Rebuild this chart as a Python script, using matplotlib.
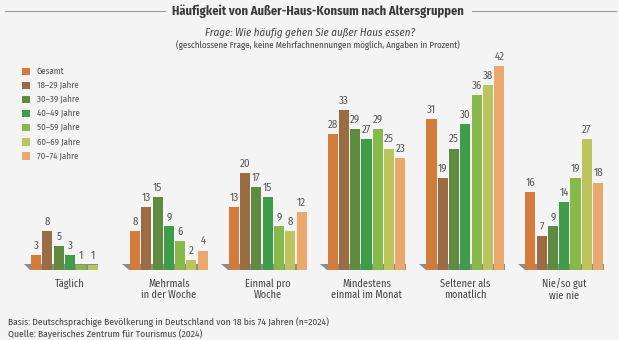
import numpy as np
import matplotlib
matplotlib.use("Agg")
import matplotlib.pyplot as plt
from matplotlib.patches import Patch, Polygon

plt.rcParams['font.family'] = ['Fira Sans Condensed', 'DejaVu Sans']

# Daten
categories = ["Täglich", "Mehrmals\nin der Woche", "Einmal pro\nWoche",
              "Mindestens\neinmal im Monat", "Seltener als\nmonatlich", "Nie/so gut\nwie nie"]
groups = ["Gesamt", "18\u201329 Jahre", "30\u201339 Jahre", "40\u201349 Jahre",
          "50\u201359 Jahre", "60\u201369 Jahre", "70\u201374 Jahre"]
gesamt = [3, 8, 13, 28, 31, 16]
j18_29 = [8, 13, 20, 33, 19, 7]
j30_39 = [5, 15, 17, 29, 25, 9]
j40_49 = [3, 9, 15, 27, 30, 14]
j50_59 = [1, 6, 9, 29, 36, 19]
j60_69 = [1, 2, 8, 25, 38, 27]
j70_74 = [None, 4, 12, 23, 42, 18]   # Täglich: kein Wert
series = [gesamt, j18_29, j30_39, j40_49, j50_59, j60_69, j70_74]
colors = ["#d27b3b", "#9a6c43", "#5f8b40", "#3f9c4b", "#87b94b", "#bcc55d", "#eba86d"]

bg = "#f4f4f4"
fig = plt.figure(figsize=(6.19, 3.40), dpi=100, facecolor=bg)
ax = fig.add_axes([0.0333, 0.2059, 0.958, 0.643])
ax.set_facecolor(bg)
ax.set_xlim(-0.5, 5.5)
ax.set_ylim(0, 45)
ax.axis("off")

pitch = 0.1143
width = 0.102
x = np.arange(len(categories))

# "Boden" unter jeder Gruppe (endet am letzten vorhandenen Balken)
for i, xi in enumerate(x):
    n = max(k for k, s in enumerate(series) if s[i] is not None)
    left = xi - 3.5 * pitch
    right = xi + (n - 3) * pitch + pitch / 2
    ax.add_patch(Polygon([(left - 0.07, 1.25), (right, 1.25), (right, 0), (left, 0)],
                         closed=True, color="#8c8c8c", lw=0, zorder=1))

for k, (vals, c) in enumerate(zip(series, colors)):
    off = (k - 3) * pitch
    for xi, v in zip(x, vals):
        if v is None:
            continue
        ax.bar(xi + off, v, width=width, color=c, zorder=2, linewidth=0)
        ax.text(xi + off, v + 0.8, str(v), ha="center", va="bottom",
                fontsize=7.8, color="#555555")

for xi, cat in zip(x, categories):
    ax.text(xi, -1.7, cat, ha="center", va="top", fontsize=7.4,
            color="#444444", linespacing=1.1)

# Titel
fig.text(0.514, 0.967, "Häufigkeit von Außer-Haus-Konsum nach Altersgruppen",
         ha="center", va="center", fontsize=9, fontweight="bold", color="#3a3a3a")
fig.add_artist(plt.Line2D([0.008, 0.267], [0.967, 0.967], color="#9a9a9a", lw=0.8))
fig.add_artist(plt.Line2D([0.762, 0.995], [0.967, 0.967], color="#9a9a9a", lw=0.8))
fig.text(0.501, 0.905, "Frage: Wie häufig gehen Sie außer Haus essen?",
         ha="center", va="center", fontsize=7.9, style="italic", color="#444444")
fig.text(0.514, 0.866, "(geschlossene Frage, keine Mehrfachnennungen möglich, Angaben in Prozent)",
         ha="center", va="center", fontsize=6.4, color="#444444")

handles = [Patch(facecolor=c, edgecolor="none") for c in colors]
fig.legend(handles, groups, loc="upper left", bbox_to_anchor=(0.022, 0.826),
           frameon=False, fontsize=6.4, handlelength=0.9, handleheight=0.9,
           handletextpad=0.8, labelspacing=0.58, labelcolor="#555555")

fig.text(0.013, 0.052, "Basis: Deutschsprachige Bevölkerung in Deutschland von 18 bis 74 Jahren (n=2024)",
         ha="left", va="center", fontsize=6.9, color="#444444")
fig.text(0.013, 0.017, "Quelle: Bayerisches Zentrum für Tourismus (2024)",
         ha="left", va="center", fontsize=6.9, color="#444444")

fig.savefig("out.png", dpi=100, facecolor=bg)
